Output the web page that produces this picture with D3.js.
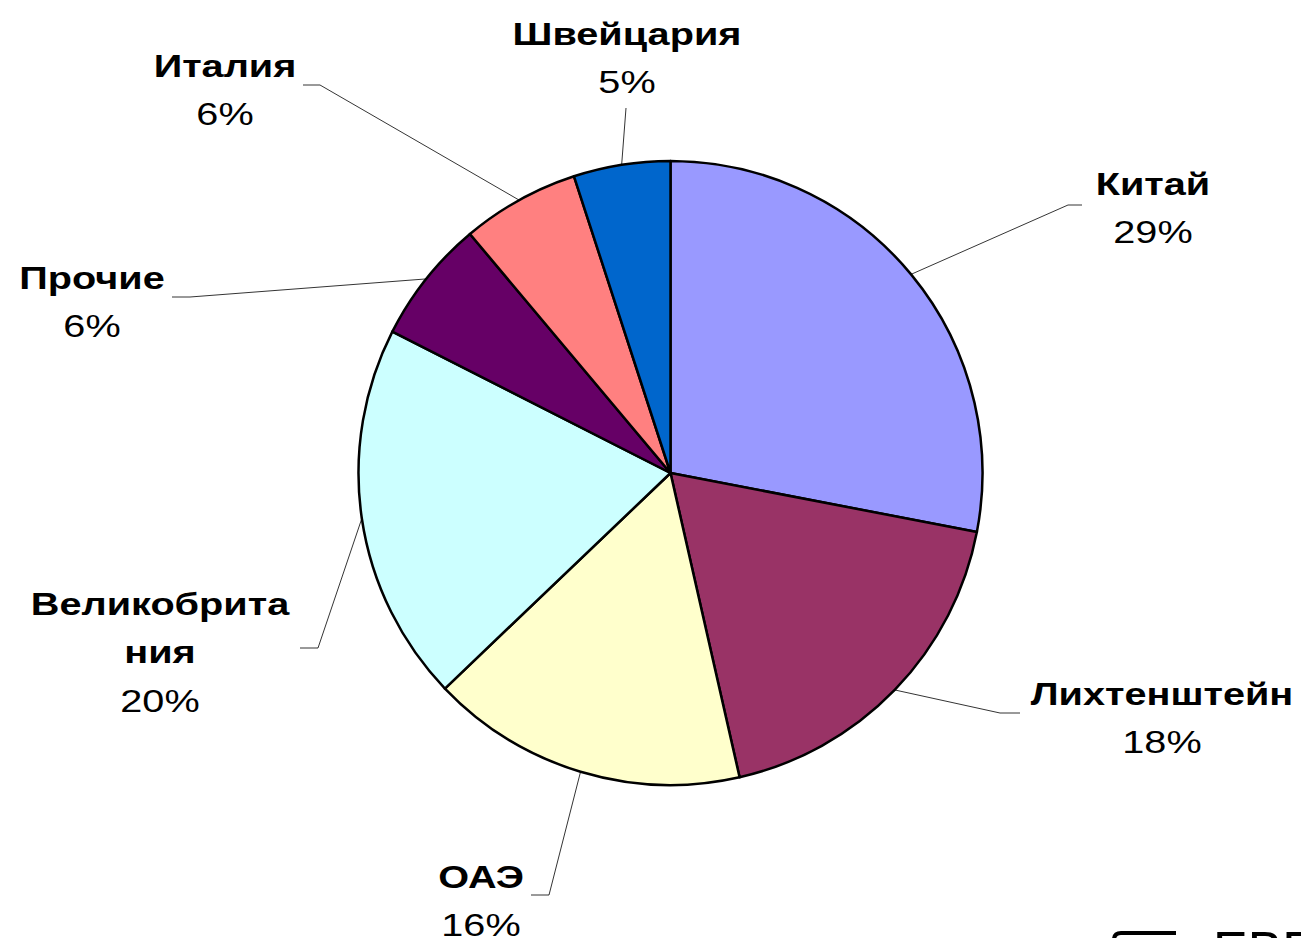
<!DOCTYPE html>
<html>
<head>
<meta charset="utf-8">
<script src="https://cdn.jsdelivr.net/npm/d3@7"></script>
<style>
  body { margin: 0; background: #fff; }
  svg { display: block; }
  .name { font-family: "Liberation Sans", Arial, sans-serif; font-weight: bold; font-size: 32px; fill: #000; }
  .pct { font-family: "Liberation Sans", Arial, sans-serif; font-size: 32px; fill: #000; }
</style>
</head>
<body>
<div id="chart"></div>
<script>
// slice order: clockwise from 12 o'clock
const countries = ['Китай', 'Лихтенштейн', 'ОАЭ', 'Великобритания', 'Прочие', 'Италия', 'Швейцария'];
const shares = [28.0, 18.4, 16.4, 19.6, 6.4, 6.1, 5.0];
const shareLabels = ['29%', '18%', '16%', '20%', '6%', '6%', '5%'];
// how each name wraps on the chart
const nameLines = [['Китай'], ['Лихтенштейн'], ['ОАЭ'], ['Великобрита', 'ния'], ['Прочие'], ['Италия'], ['Швейцария']];
const colors = ['#9999ff', '#993366', '#ffffcc', '#ccffff', '#660066', '#ff8080', '#0066cc'];

// label placement (text centre, first line y, leader elbow and end)
const labelLayout = [
    { x: 1153, y: 183, elbow: [1068, 205], end: [1082, 205] },
    { x: 1162, y: 693, elbow: [1000, 713], end: [1020, 713] },
    { x: 481, y: 876, elbow: [549, 895], end: [531, 895] },
    { x: 160, y: 603, elbow: [318, 648], end: [300, 648] },
    { x: 92, y: 277, elbow: [190, 297], end: [172, 297] },
    { x: 225, y: 65, elbow: [320, 85], end: [303, 85] },
    { x: 627, y: 33, elbow: [626, 108], end: [626, 108] }
];

const width = 1301, height = 938;
const cx = 670.5, cy = 473, radius = 312;
const lineGap = 48.5;
const stretch = 1.24; // the labels are drawn horizontally widened

const svg = d3.select('#chart').append('svg')
    .attr('width', width)
    .attr('height', height);

const pie = d3.pie().sort(null).value(d => d);
const arcs = pie(shares);

const arc = d3.arc().innerRadius(0).outerRadius(radius);

const g = svg.append('g')
    .attr('transform', `translate(${cx},${cy})`);

g.selectAll('path.slice')
    .data(arcs)
    .enter()
    .append('path')
    .attr('class', 'slice')
    .attr('d', arc)
    .attr('fill', (d, i) => colors[i])
    .attr('stroke', '#000')
    .attr('stroke-width', 2.5)
    .attr('stroke-linejoin', 'round');

// leader lines start on the rim at each slice's mid angle
svg.selectAll('polyline.leader')
    .data(arcs)
    .enter()
    .append('polyline')
    .attr('class', 'leader')
    .attr('points', (d, i) => {
        let a = (d.startAngle + d.endAngle) / 2;
        let sx = cx + radius * Math.sin(a);
        let sy = cy - radius * Math.cos(a);
        let L = labelLayout[i];
        return [[sx, sy], L.elbow, L.end].map(p => p.join(',')).join(' ');
    })
    .attr('fill', 'none')
    .attr('stroke', '#000')
    .attr('stroke-width', 0.8);

// labels
const labels = svg.selectAll('g.label')
    .data(arcs)
    .enter()
    .append('g')
    .attr('class', 'label');

labels.each(function(d, i) {
    let ele = d3.select(this);
    let L = labelLayout[i];
    let lines = nameLines[i].map(t => ({ t: t, cls: 'name' }));
    lines.push({ t: shareLabels[i], cls: 'pct' });
    lines.forEach((ln, k) => {
        ele.append('text')
            .attr('class', ln.cls)
            .attr('transform', `translate(${L.x},${L.y + k * lineGap}) scale(${stretch},1)`)
            .attr('dy', '0.36em')
            .attr('text-anchor', 'middle')
            .text(ln.t);
    });
});

// cropped logo in the bottom-right corner
svg.append('path')
    .attr('d', 'M1114,948 L1114,940 Q1114,933 1121,933 L1176,933')
    .attr('fill', 'none')
    .attr('stroke', '#000')
    .attr('stroke-width', 4);
svg.append('text')
    .attr('x', 1213)
    .attr('y', 968)
    .style('font-family', '"Liberation Sans", Arial, sans-serif')
    .style('font-size', '52px')
    .text('ЕВРО');
</script>
</body>
</html>
